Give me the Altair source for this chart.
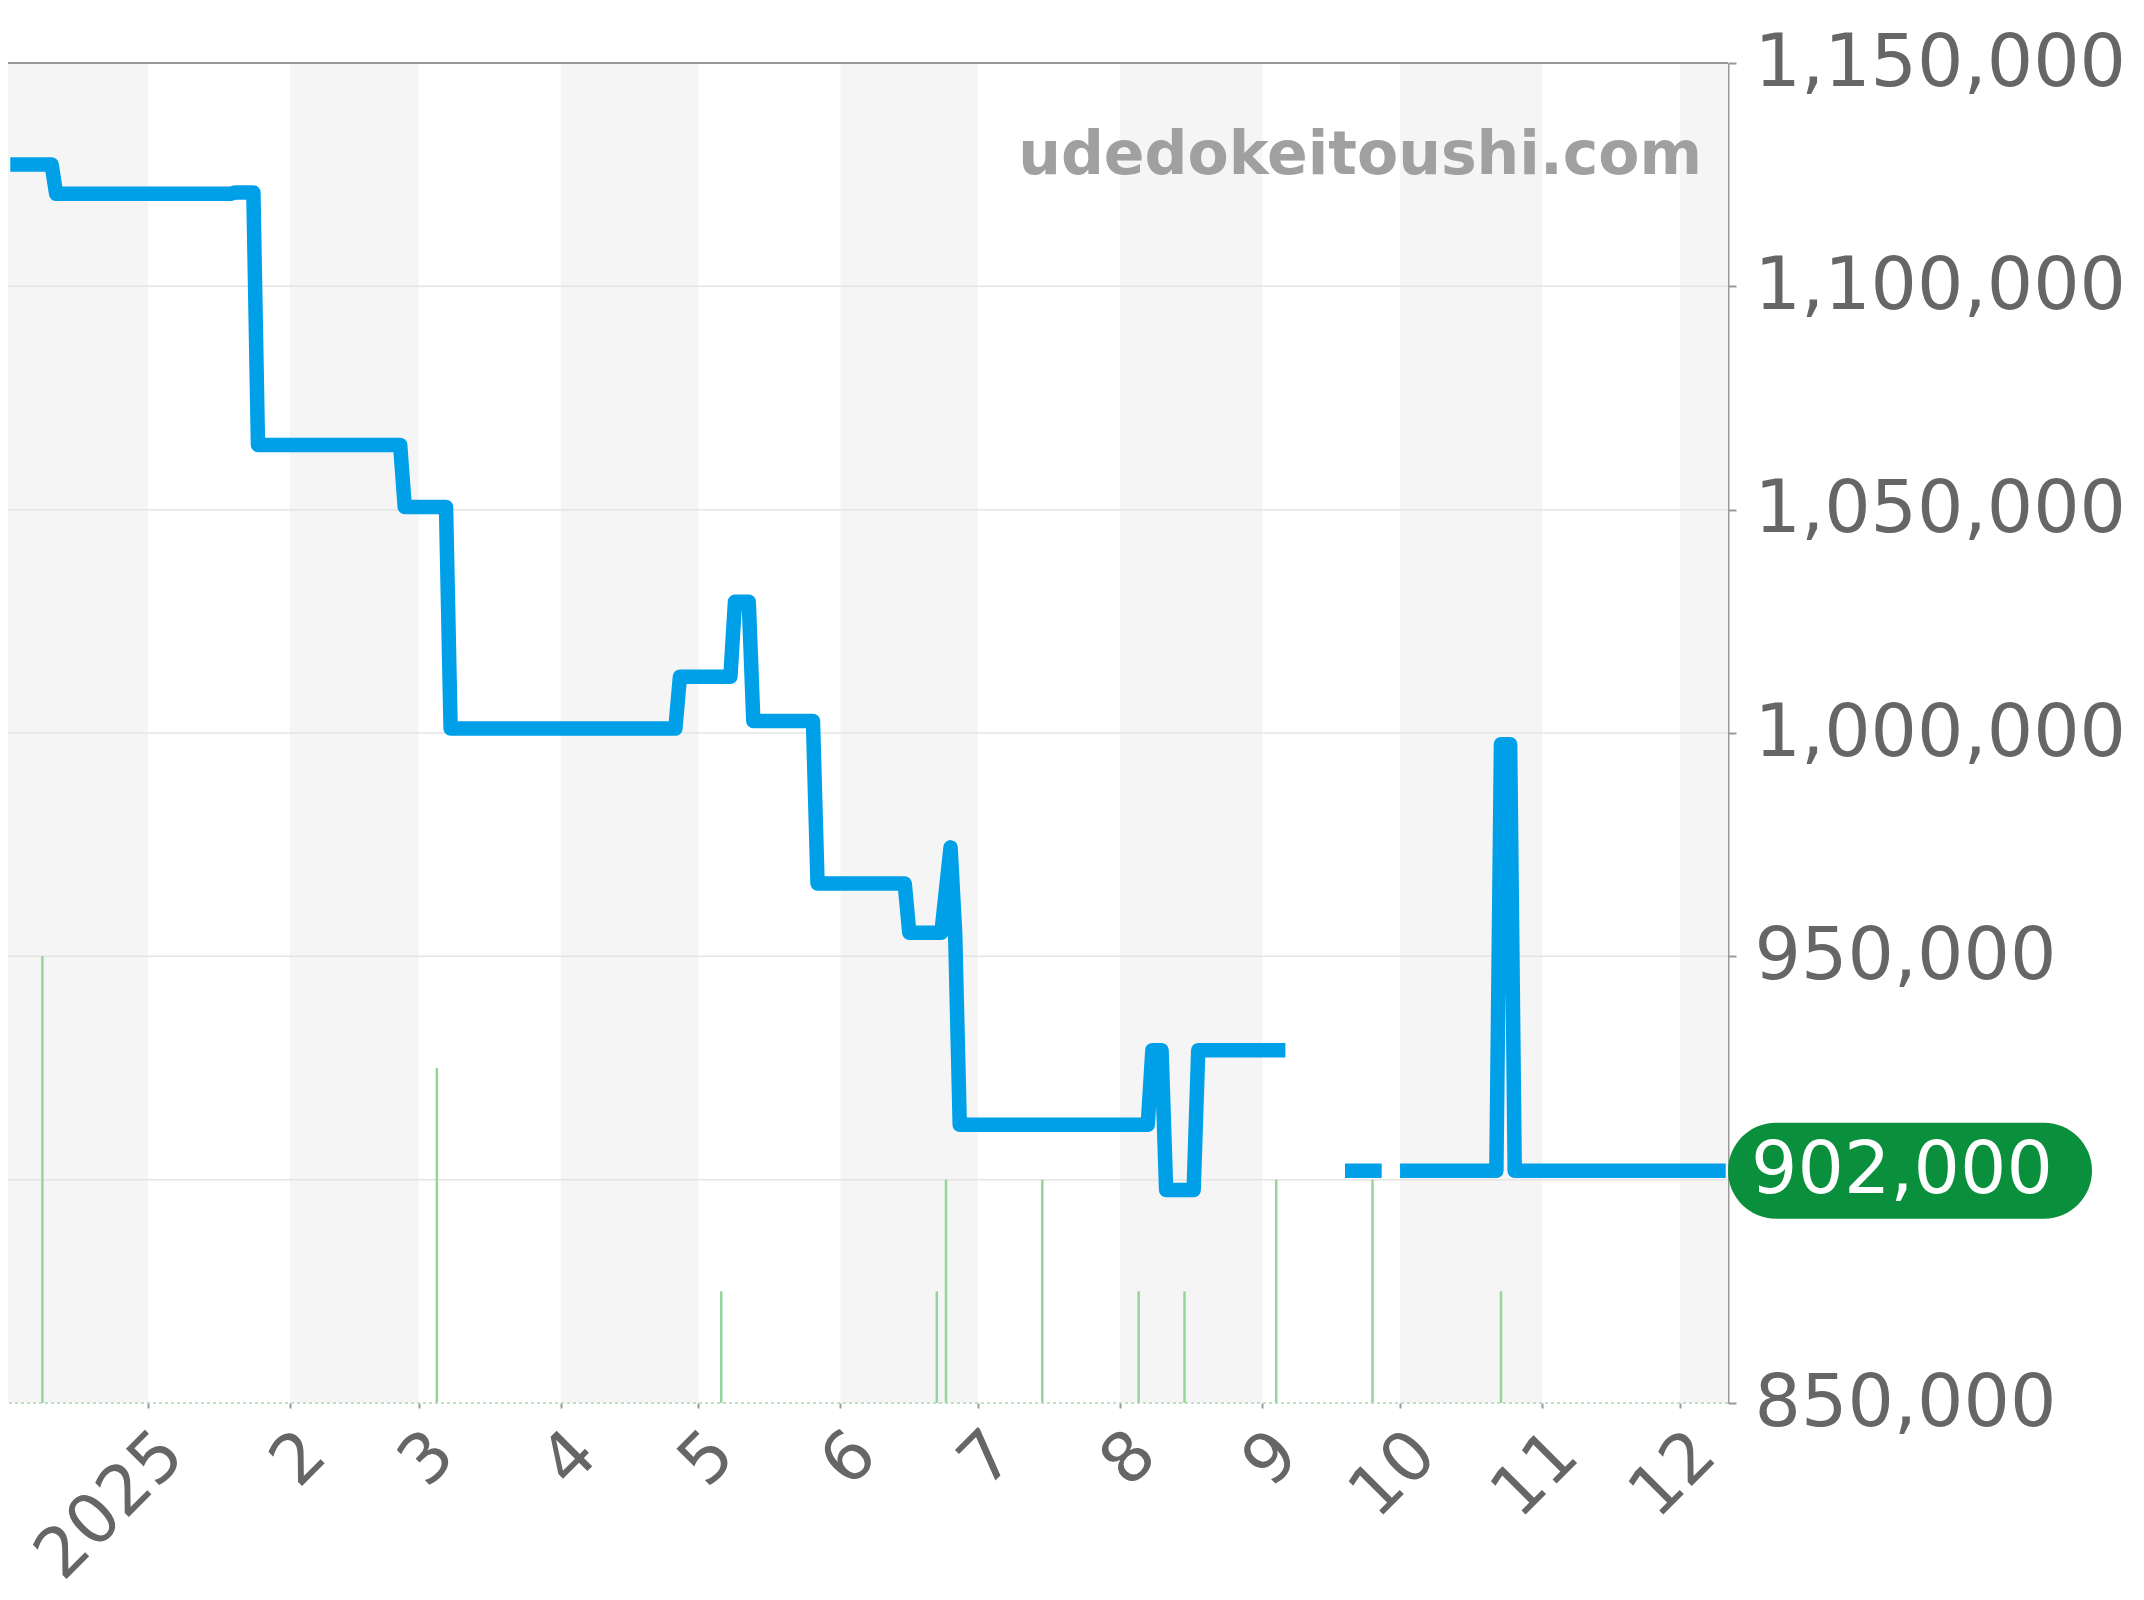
import altair as alt
import pandas as pd

# ---------------- data ----------------
PRICE_DATES = [
    "2024-12-02", "2024-12-11", "2024-12-12", "2025-01-19", "2025-01-20",
    "2025-01-24", "2025-01-25", "2025-02-25", "2025-02-26", "2025-03-07",
    "2025-03-08", "2025-04-26", "2025-04-27", "2025-05-08", "2025-05-09",
    "2025-05-12", "2025-05-13", "2025-05-26", "2025-05-27", "2025-06-15",
    "2025-06-16", "2025-06-23", "2025-06-25", "2025-06-26", "2025-06-27",
    "2025-08-07", "2025-08-08", "2025-08-10", "2025-08-11", "2025-08-17",
    "2025-08-18", "2025-09-06",
    "2025-09-19", "2025-09-27",
    "2025-10-01", "2025-10-22", "2025-10-23", "2025-10-25", "2025-10-26",
    "2025-12-11",
]
PRICE_VALUES = [
    1127300, 1127300, 1120700, 1120700, 1121000,
    1121000, 1064500, 1064500, 1050600, 1050600,
    1001000, 1001000, 1012600, 1012600, 1029400,
    1029400, 1002700, 1002700, 966300, 966300,
    955300, 955300, 974400, 955300, 912300,
    912300, 929000, 929000, 897700, 897700,
    929000, 929000,
    902000, 902000,
    902000, 902000, 997500, 997500, 902000,
    902000,
]
# runs of consecutive days (the line breaks where days are missing)
PRICE_SEGMENT = [0] * 32 + [1] * 2 + [2] * 6

VOLUME_DATES = [
    "2024-12-09", "2025-03-05", "2025-05-06", "2025-06-22", "2025-06-24",
    "2025-07-15", "2025-08-05", "2025-08-15", "2025-09-04", "2025-09-25",
    "2025-10-23",
]
VOLUME_COUNTS = [4, 3, 1, 1, 2, 2, 1, 1, 2, 2, 1]

BAND_STARTS = ["2024-12-01", "2025-02-01", "2025-04-01", "2025-06-01",
               "2025-08-01", "2025-10-01", "2025-12-01"]
BAND_ENDS = ["2025-01-01", "2025-03-01", "2025-05-01", "2025-07-01",
             "2025-09-01", "2025-11-01", "2026-01-01"]

GRID_VALUES = [900000, 950000, 1000000, 1050000, 1100000]
# the 900,000 tick sits under the latest-price badge in the reference
Y_TICKS = [850000, 950000, 1000000, 1050000, 1100000, 1150000]
Y_DOMAIN = [850000, 1150000]
COUNT_DOMAIN = [0, 12]
TOP_VALUE = [1150000]
X_DOMAIN_DATES = ["2024-12-01T12:00:00Z", "2025-12-11T12:00:00Z"]
X_TICK_DATES = ["2025-%02d-01" % m for m in range(1, 13)]
X_TICK_LABELS = ["2025", "2", "3", "4", "5", "6", "7", "8", "9", "10", "11", "12"]
WATERMARK = "udedokeitoushi.com"

# ---------------- tables ----------------
price_df = pd.DataFrame({"date": PRICE_DATES, "price": PRICE_VALUES,
                         "segment": PRICE_SEGMENT})
vol_df = pd.DataFrame({"date": VOLUME_DATES, "count": VOLUME_COUNTS})
band_df = pd.DataFrame({"start": BAND_STARTS, "end": BAND_ENDS})
grid_df = pd.DataFrame({"value": GRID_VALUES})
base_df = pd.DataFrame({"v": [0]})
top_df = pd.DataFrame({"v": TOP_VALUE})
wm_df = pd.DataFrame({"label": [WATERMARK]})
last_df = pd.DataFrame({"price": [PRICE_VALUES[-1]]})


def ms(s):
    t = pd.Timestamp(s)
    if t.tzinfo is None:
        t = t.tz_localize("UTC")
    return int(t.value // 10**6)


x_domain = [ms(d) for d in X_DOMAIN_DATES]
tick_ms = [ms(d) for d in X_TICK_DATES]
label_expr = "[" + ",".join("'%s'" % l for l in X_TICK_LABELS) + "][utcmonth(datum.value)]"

W, H = 1720, 1340
FONT = "DejaVu Sans"

xs = alt.Scale(type="utc", domain=x_domain)
ys = alt.Scale(domain=Y_DOMAIN, zero=False, nice=False)
cs = alt.Scale(domain=COUNT_DOMAIN, zero=False, nice=False)

x_axis = alt.Axis(values=tick_ms, labelExpr=label_expr, labelAngle=-45,
                  labelFontSize=69, labelColor="#666666", labelFont=FONT,
                  labelPadding=11, labelOverlap=False, labelFlush=False,
                  labelLimit=0,
                  tickSize=5, tickWidth=2, tickColor="#999999",
                  domain=False, grid=False, title=None)
y_axis = alt.Axis(orient="right", values=Y_TICKS, format=",d",
                  labelFontSize=73, labelColor="#666666", labelFont=FONT,
                  labelPadding=18, labelLimit=0, labelOverlap=False,
                  tickSize=8, tickWidth=2, tickColor="#999999",
                  domainColor="#999999", domainWidth=2, grid=False, title=None)

bands = alt.Chart(band_df).mark_rect(color="#f5f5f5", clip=True).encode(
    x=alt.X("start:T", scale=xs, axis=x_axis),
    x2="end:T",
)

grid = alt.Chart(grid_df).mark_rule(color="#e4e4e4", strokeWidth=1.5).encode(
    y=alt.Y("value:Q", scale=ys, axis=None)
)

vol = alt.Chart(vol_df).mark_rule(color="#94d59a", strokeWidth=2.5).encode(
    x=alt.X("date:T", scale=xs, axis=x_axis),
    y=alt.Y("count:Q", scale=cs, axis=None),
    y2=alt.datum(0),
)

baseline = alt.Chart(base_df).mark_rule(color="#a6dba8", strokeWidth=1.5,
                                        strokeDash=[3, 3]).encode(
    y=alt.Y("v:Q", scale=cs, axis=None)
)

line = alt.Chart(price_df).mark_line(color="#00a0e9", strokeWidth=14.5,
                                     strokeJoin="round", strokeCap="butt",
                                     clip=True).encode(
    x=alt.X("date:T", scale=xs, axis=x_axis),
    y=alt.Y("price:Q", scale=ys, axis=y_axis),
    detail="segment:N",
)

top = alt.Chart(top_df).mark_rule(color="#999999", strokeWidth=2).encode(
    y=alt.Y("v:Q", scale=ys, axis=None)
)

watermark = alt.Chart(wm_df).mark_text(
    align="right", baseline="alphabetic", fontSize=60, fontWeight="bold",
    font=FONT, color="#a0a0a0"
).encode(x=alt.value(1694), y=alt.value(111), text="label:N")

pill = alt.Chart(last_df).mark_rect(color="#0a903c", cornerRadius=48,
                                    yOffset=-48, y2Offset=48).encode(
    x=alt.value(1720), x2=alt.value(2084),
    y=alt.Y("price:Q", scale=ys, axis=None),
    y2=alt.Y2("price"),
)

pill_text = alt.Chart(last_df).mark_text(
    align="left", baseline="middle", fontSize=73, font=FONT, color="white"
).encode(
    x=alt.value(1743),
    y=alt.Y("price:Q", scale=ys, axis=None),
    text=alt.Text("price:Q", format=",d"),
)

chart = alt.layer(bands, grid, vol, baseline, line, top, watermark, pill,
                  pill_text).resolve_scale(y="independent").properties(
    width=W, height=H,
    padding={"left": 0, "top": 55, "right": 408, "bottom": 189},
    autosize=alt.AutoSizeParams(type="none"),
    background="white",
).configure_view(stroke=None)

chart.save("out.html", embed_options={"renderer": "svg", "actions": False})
